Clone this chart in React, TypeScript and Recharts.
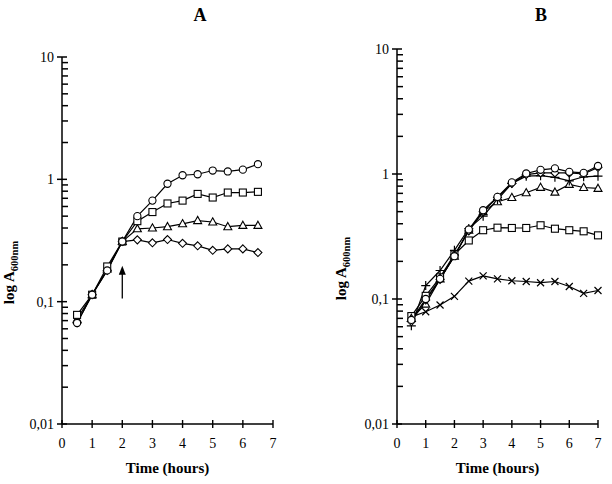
import React from 'react';
import { LineChart, Line, XAxis, YAxis, ReferenceLine } from 'recharts';

// Panel A
const timeA = [0.5, 1, 1.5, 2, 2.5, 3, 3.5, 4, 4.5, 5, 5.5, 6, 6.5];
const circleA = [0.067, 0.114, 0.18, 0.31, 0.5, 0.67, 0.92, 1.08, 1.1, 1.18, 1.16, 1.2, 1.33];
const squareA = [0.078, 0.114, 0.194, 0.31, 0.455, 0.54, 0.635, 0.67, 0.76, 0.71, 0.78, 0.78, 0.79];
const triangleA = [0.072, 0.114, 0.185, 0.31, 0.394, 0.4, 0.41, 0.433, 0.46, 0.448, 0.41, 0.42, 0.42];
const diamondA = [0.067, 0.114, 0.18, 0.31, 0.32, 0.303, 0.322, 0.3, 0.286, 0.263, 0.27, 0.27, 0.252];

// Panel B
const timeB = [0.5, 1, 1.5, 2, 2.5, 3, 3.5, 4, 4.5, 5, 5.5, 6, 6.5, 7];
const crossB = [0.072, 0.079, 0.0895, 0.105, 0.139, 0.153, 0.145, 0.14, 0.138, 0.135, 0.138, 0.126, 0.111, 0.117];
const squareB = [0.073, 0.106, 0.149, 0.227, 0.294, 0.355, 0.372, 0.37, 0.37, 0.389, 0.365, 0.355, 0.348, 0.323];
const triangleB = [0.07, 0.091, 0.145, 0.22, 0.355, 0.5, 0.6, 0.649, 0.708, 0.782, 0.716, 0.826, 0.78, 0.767];
const circleB = [0.068, 0.1, 0.145, 0.22, 0.36, 0.513, 0.656, 0.857, 1.01, 1.08, 1.11, 1.04, 1.02, 1.16];
const diamondB = [0.066, 0.098, 0.143, 0.225, 0.35, 0.5, 0.65, 0.84, 0.99, 1.02, 1.02, 1.02, 1.0, 1.13];
const plusB = [0.061, 0.128, 0.169, 0.245, 0.366, 0.46, 0.625, 0.84, 0.96, 0.97, 0.94, 0.88, 0.95, 0.96];

const xTicks = [0, 1, 2, 3, 4, 5, 6, 7];
const yTicks = [
  0.01, 0.02, 0.03, 0.04, 0.05, 0.06, 0.07, 0.08, 0.09,
  0.1, 0.2, 0.3, 0.4, 0.5, 0.6, 0.7, 0.8, 0.9,
  1, 2, 3, 4, 5, 6, 7, 8, 9, 10,
];
const yMajor = [0.01, 0.1, 1, 10];
const yMajorLabels = ['0,01', '0,1', '1', '10'];

// arrow in panel A (time, from, to)
const arrowA = { t: 2, from: 0.106, to: 0.197 };

const FONT = '"Liberation Serif", "Times New Roman", serif';

const dataA = timeA.map((t, i) => ({
  t,
  circle: circleA[i],
  square: squareA[i],
  triangle: triangleA[i],
  diamond: diamondA[i],
}));

const dataB = timeB.map((t, i) => ({
  t,
  cross: crossB[i],
  square: squareB[i],
  triangle: triangleB[i],
  circle: circleB[i],
  diamond: diamondB[i],
  plus: plusB[i],
}));

function marker(shape: string) {
  return (p: any) => {
    const { cx, cy, index } = p;
    const k = `${shape}-${index}`;
    if (cx == null || cy == null) return <g key={k} />;
    const st = { fill: '#fff', stroke: '#000', strokeWidth: 1.1 };
    switch (shape) {
      case 'circle':
        return <circle key={k} cx={cx} cy={cy} r={3.6} {...st} />;
      case 'square':
        return <rect key={k} x={cx - 3.5} y={cy - 3.5} width={7} height={7} {...st} />;
      case 'triangle':
        return <polygon key={k} points={`${cx},${cy - 4.2} ${cx + 4},${cy + 3} ${cx - 4},${cy + 3}`} {...st} />;
      case 'diamond':
        return <polygon key={k} points={`${cx},${cy - 4} ${cx + 4},${cy} ${cx},${cy + 4} ${cx - 4},${cy}`} {...st} />;
      case 'cross':
        return (
          <path key={k} d={`M${cx - 3.5},${cy - 3.5}L${cx + 3.5},${cy + 3.5}M${cx - 3.5},${cy + 3.5}L${cx + 3.5},${cy - 3.5}`} stroke="#000" strokeWidth={1.2} />
        );
      case 'plus':
        return (
          <path key={k} d={`M${cx - 4.5},${cy}L${cx + 4.5},${cy}M${cx},${cy - 4.5}L${cx},${cy + 4.5}`} stroke="#000" strokeWidth={1.2} />
        );
      default:
        return <g key={k} />;
    }
  };
}

const YTick = (p: any) => {
  const { x, y, payload } = p;
  const idx = yMajor.indexOf(payload.value);
  if (idx >= 0) {
    return (
      <g>
        <line x1={x - 5} x2={x + 5} y1={y} y2={y} stroke="#000" strokeWidth={1.5} />
        <text x={x - 8} y={y} dy="0.35em" textAnchor="end" fontFamily={FONT} fontSize={14} fill="#000">
          {yMajorLabels[idx]}
        </text>
      </g>
    );
  }
  return (
    <g>
      <line x1={x} x2={x + 6} y1={y} y2={y} stroke="#000" strokeWidth={1.5} />
    </g>
  );
};

const XTick = (p: any) => {
  const { x, y, payload } = p;
  return (
    <g>
      <line x1={x} x2={x} y1={y - 4} y2={y + 4} stroke="#000" strokeWidth={1.4} />
      <text x={x} y={y + 24} textAnchor="middle" fontFamily={FONT} fontSize={14} fill="#000">
        {payload.value}
      </text>
    </g>
  );
};

const YLabel = (dx: number, dy: number) => (p: any) => {
  const vb = p.viewBox;
  const cx = vb.x + dx;
  const cy = vb.y + vb.height / 2 + dy;
  return (
    <text
      x={cx}
      y={cy}
      transform={`rotate(-90 ${cx} ${cy})`}
      textAnchor="middle"
      fontFamily={FONT}
      fontWeight="bold"
      fontSize={15}
      fill="#000"
    >
      log A
      <tspan fontSize={10.5} dy={4}>600nm</tspan>
    </text>
  );
};

const XLabel = (p: any) => {
  const vb = p.viewBox;
  return (
    <text
      x={vb.x + vb.width / 2}
      y={vb.y + 49}
      textAnchor="middle"
      fontFamily={FONT}
      fontWeight="bold"
      fontSize={15}
      fill="#000"
    >
      Time (hours)
    </text>
  );
};

const Arrow = (p: any) => {
  const { x1, y1, x2, y2 } = p;
  const top = Math.min(y1, y2);
  const bot = Math.max(y1, y2);
  return (
    <g>
      <line x1={x1} x2={x2} y1={bot} y2={top + 6} stroke="#000" strokeWidth={1.3} />
      <polygon points={`${x1},${top} ${x1 + 3.5},${top + 9} ${x1 - 3.5},${top + 9}`} fill="#000" />
    </g>
  );
};

const lineStyle = { stroke: '#000', strokeWidth: 1.2 };

function Title({ text, left }: { text: string; left: number }) {
  return (
    <div
      style={{
        position: 'absolute',
        left: left - 20,
        top: 5,
        width: 40,
        textAlign: 'center',
        fontFamily: FONT,
        fontWeight: 'bold',
        fontSize: 18,
        color: '#000',
      }}
    >
      {text}
    </div>
  );
}

export default function App() {
  return (
    <div style={{ position: 'absolute', left: 0, top: 0, width: 612, height: 484, background: '#fff' }}>
      <Title text="A" left={200} />
      <Title text="B" left={541} />

      <div style={{ position: 'absolute', left: 0, top: 0 }}>
        <LineChart width={306} height={484} data={dataA} margin={{ top: 57, right: 33, bottom: 0, left: 0 }}>
          <XAxis
            dataKey="t"
            type="number"
            domain={[0, 7]}
            ticks={xTicks}
            interval={0}
            height={60}
            tickSize={0}
            tickMargin={0}
            tick={XTick}
            axisLine={{ stroke: '#000', strokeWidth: 1.5 }}
            label={XLabel}
          />
          <YAxis
            type="number"
            scale="log"
            domain={[0.01, 10]}
            allowDataOverflow
            ticks={yTicks}
            interval={0}
            width={62}
            tickSize={0}
            tickMargin={0}
            tick={YTick}
            axisLine={{ stroke: '#000', strokeWidth: 1.5 }}
            label={YLabel(14, 32)}
          />
          <ReferenceLine
            segment={[{ x: arrowA.t, y: arrowA.from }, { x: arrowA.t, y: arrowA.to }]}
            shape={Arrow}
          />
          <Line dataKey="diamond" {...lineStyle} dot={marker('diamond')} isAnimationActive={false} />
          <Line dataKey="triangle" {...lineStyle} dot={marker('triangle')} isAnimationActive={false} />
          <Line dataKey="square" {...lineStyle} dot={marker('square')} isAnimationActive={false} />
          <Line dataKey="circle" {...lineStyle} dot={marker('circle')} isAnimationActive={false} />
        </LineChart>
      </div>

      <div style={{ position: 'absolute', left: 306, top: 0 }}>
        <LineChart width={306} height={484} data={dataB} margin={{ top: 49, right: 14, bottom: 0, left: 0 }}>
          <XAxis
            dataKey="t"
            type="number"
            domain={[0, 7]}
            ticks={xTicks}
            interval={0}
            height={60}
            tickSize={0}
            tickMargin={0}
            tick={XTick}
            axisLine={{ stroke: '#000', strokeWidth: 1.5 }}
            label={XLabel}
          />
          <YAxis
            type="number"
            scale="log"
            domain={[0.01, 10]}
            allowDataOverflow
            ticks={yTicks}
            interval={0}
            width={91}
            tickSize={0}
            tickMargin={0}
            tick={YTick}
            axisLine={{ stroke: '#000', strokeWidth: 1.5 }}
            label={YLabel(40, 32)}
          />
          <Line dataKey="cross" {...lineStyle} dot={marker('cross')} isAnimationActive={false} />
          <Line dataKey="square" {...lineStyle} dot={marker('square')} isAnimationActive={false} />
          <Line dataKey="triangle" {...lineStyle} dot={marker('triangle')} isAnimationActive={false} />
          <Line dataKey="plus" {...lineStyle} dot={marker('plus')} isAnimationActive={false} />
          <Line dataKey="diamond" {...lineStyle} dot={marker('diamond')} isAnimationActive={false} />
          <Line dataKey="circle" {...lineStyle} dot={marker('circle')} isAnimationActive={false} />
        </LineChart>
      </div>
    </div>
  );
}
